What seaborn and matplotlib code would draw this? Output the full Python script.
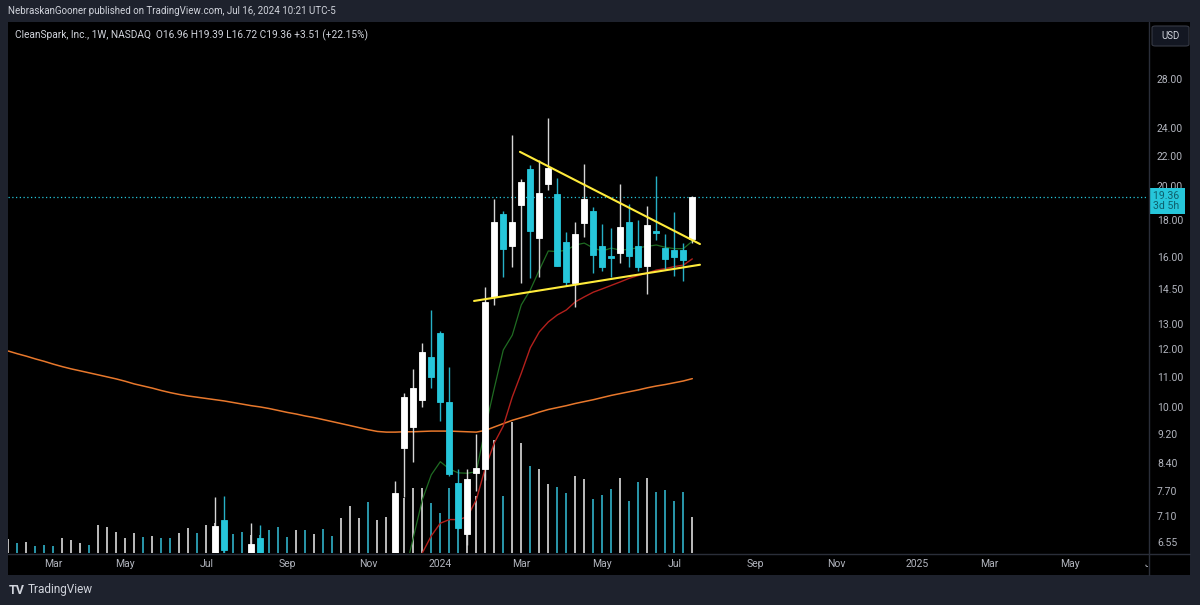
import numpy as np
import pandas as pd
import matplotlib
matplotlib.use("Agg")
import matplotlib.pyplot as plt
import matplotlib.transforms as mtransforms
from matplotlib.patches import Rectangle, FancyBboxPatch
from matplotlib.lines import Line2D
from matplotlib.ticker import NullLocator
import seaborn as sns

# ---------------- data ----------------
start_week = "2023-01-30"          # first weekly bar (Monday)
n_weeks = 77                       # through week of 2024-07-15

# weekly direction (u = up / white, d = down / cyan) used for volume colours
direction = ("ududdduuud" "uuuuududdu" "uduudddudd" "ddududduuu"
             "duuuuuuddd" "duuuuduudu" "udduudddud" "duddddu")

# weekly volume (millions of shares)
volume = [21, 15, 16, 10, 12, 10, 22, 19, 15, 12,
          42, 39, 31, 22, 30, 24, 25, 22, 22, 30,
          37, 30, 42, 45, 42, 28, 31, 27, 27, 34,
          39, 24, 34, 34, 28, 36, 25, 52, 70, 52,
          76, 49, 54, 67, 82, 97, 97, 75, 60, 97,
          105, 108, 85, 135, 169, 85, 196, 165, 130, 126,
          103, 99, 90, 115, 111, 81, 87, 96, 112, 78,
          106, 112, 91, 94, 78, 91, 54]

# candles visible inside the 6.3 - 33.5 price window (week index)
candle_week = [23, 24, 27, 28] + list(range(43, 77))
c_open = [5.90, 7.01, 6.00, 6.63,
          5.60, 8.81, 9.41, 10.22, 11.70, 12.62, 10.16, 7.89, 6.71, 8.13,
          8.24, 14.15, 18.34, 16.61, 18.88, 21.09, 16.99, 20.12, 19.50, 16.81,
          14.76, 17.81, 18.51, 16.59, 16.07, 16.24, 17.90, 16.59, 15.59, 17.40,
          16.46, 16.38, 16.38, 16.96]
c_high = [7.55, 7.56, 6.95, 6.92,
          7.93, 10.45, 11.29, 12.23, 13.57, 12.70, 11.34, 8.24, 8.24, 9.20,
          14.60, 19.22, 18.51, 23.48, 20.46, 21.37, 21.71, 24.75, 20.51, 17.31,
          17.90, 21.43, 18.73, 17.77, 17.57, 20.12, 18.92, 17.99, 18.80, 20.66,
          17.22, 18.47, 16.72, 19.39]
c_low = [5.60, 6.20, 5.80, 5.70,
         5.50, 7.55, 8.43, 10.02, 10.61, 9.59, 8.05, 6.83, 6.50, 7.68,
         7.95, 13.79, 15.06, 15.54, 14.78, 14.98, 15.06, 19.77, 15.59, 14.63,
         13.71, 17.08, 15.23, 15.35, 15.06, 15.71, 15.54, 15.35, 14.27, 16.90,
         15.42, 15.09, 14.88, 16.72]
c_close = [6.88, 6.38, 6.51, 5.95,
           7.63, 10.34, 10.62, 11.89, 11.01, 10.18, 8.12, 6.85, 7.99, 8.26,
           13.93, 17.87, 16.41, 17.88, 20.25, 17.39, 19.56, 21.20, 15.59, 14.83,
           17.22, 19.22, 16.12, 15.54, 15.98, 17.62, 16.07, 15.54, 17.69, 17.30,
           15.91, 16.04, 15.85, 19.36]

# moving averages
ma_long = [11.93, 11.83, 11.74, 11.64, 11.55, 11.45, 11.36, 11.28, 11.21, 11.14,
           11.07, 11.00, 10.93, 10.85, 10.76, 10.69, 10.62, 10.54, 10.47, 10.41,
           10.36, 10.32, 10.28, 10.24, 10.20, 10.15, 10.10, 10.05, 10.01, 9.96,
           9.90, 9.84, 9.79, 9.73, 9.68, 9.62, 9.56, 9.50, 9.44, 9.38,
           9.32, 9.27, 9.25, 9.25, 9.26, 9.26, 9.27, 9.28, 9.28, 9.28,
           9.27, 9.26, 9.25, 9.30, 9.40, 9.50, 9.60, 9.68, 9.76, 9.85,
           9.93, 9.99, 10.05, 10.12, 10.18, 10.24, 10.31, 10.38, 10.44, 10.50,
           10.56, 10.63, 10.69, 10.74, 10.80, 10.86, 10.94]
ma_fast_start = 44
ma_fast = [5.90, 6.64, 7.48, 8.09, 8.43, 8.24, 8.14, 8.13, 8.17, 9.37,
           10.62, 11.97, 12.54, 13.79, 14.45, 15.38, 16.33, 16.30, 16.37, 16.64,
           16.74, 16.48, 16.33, 16.48, 16.37, 16.42, 16.50, 16.57, 16.64, 16.52,
           16.45, 16.45, 16.84]
ma_mid_start = 45
ma_mid = [5.90, 6.33, 6.68, 6.95, 7.03, 7.03, 7.09, 7.48, 8.27, 8.94,
          9.43, 10.33, 11.13, 12.05, 12.67, 13.07, 13.36, 13.57, 13.92, 14.14,
          14.35, 14.50, 14.66, 14.82, 14.99, 15.12, 15.24, 15.38, 15.45, 15.55,
          15.62, 15.93]

# drawn trendlines (week index, price)
upper_x = [56.85, 76.85]
upper_y = [22.29, 16.69]
lower_x = [51.75, 76.85]
lower_y = [13.96, 15.64]

last_price = 19.36
price_ticks = [6.55, 7.10, 7.70, 8.40, 9.20, 10.00, 11.00, 12.00, 13.00,
               14.50, 16.00, 18.00, 20.00, 22.00, 24.00, 28.00]

header = "NebraskanGooner published on TradingView.com, Jul 16, 2024 10:21 UTC-5"
legend = "CleanSpark, Inc., 1W, NASDAQ  O16.96 H19.39 L16.72 C19.36 +3.51 (+22.15%)"

# ---------------- style ----------------
sns.set_theme(style="dark")
plt.rcParams["font.family"] = ["Roboto", "DejaVu Sans"]

UP = "#ffffff"
UP_WICK = "#d6d6d6"
DN = "#26c6da"
DN_WICK = "#26b0c6"
VOL_UP = "#bdbdbd"
VOL_DN = "#2a98ab"
TXT = "#b2b5be"
FRAME = "#1e222d"
SEP = "#2a2e39"

W, H = 1200, 605
fig = plt.figure(figsize=(12, 6.05), dpi=100, facecolor=FRAME)


def fx(px):
    return px / W


def fy(py):
    return 1 - py / H


fig.add_artist(Rectangle((fx(8), fy(575)), fx(1190) - fx(8), fy(22) - fy(575),
                         transform=fig.transFigure, fc="black", ec="none", zorder=0))

rect = [fx(8), fy(553), (1148 - 8) / W, (553 - 22) / H]
x_lo, x_hi = -0.03, 126.63

# volume layer (behind price)
vax = fig.add_axes(rect)
vax.set_facecolor("none")
vax.set_axis_off()
vx = np.arange(n_weeks)
vcol = [VOL_UP if d == "u" else VOL_DN for d in direction]
vax.vlines(vx, 0, volume, colors=vcol, lw=1.4)
vax.set_xlim(x_lo, x_hi)
vax.set_ylim(0, 796.5)

# price layer
ax = fig.add_axes(rect)
ax.patch.set_alpha(0)
ax.set_yscale("log")
ax.set_xlim(x_lo, x_hi)
ax.set_ylim(6.33, 33.5)
for s in ax.spines.values():
    s.set_visible(False)
ax.grid(False)

# moving averages
sns.lineplot(x=np.arange(n_weeks), y=ma_long, ax=ax, color="#e8782c", lw=1.1,
             estimator=None, legend=False)
sns.lineplot(x=np.arange(ma_fast_start, ma_fast_start + len(ma_fast)), y=ma_fast, ax=ax,
             color="#1f6b22", lw=0.9, estimator=None, legend=False)
sns.lineplot(x=np.arange(ma_mid_start, ma_mid_start + len(ma_mid)), y=ma_mid, ax=ax,
             color="#b3201c", lw=1.0, estimator=None, legend=False)

# candles
cw = np.array(candle_week)
o = np.array(c_open); h = np.array(c_high); l = np.array(c_low); c = np.array(c_close)
up = c >= o
ax.vlines(cw[up], l[up], h[up], colors=UP_WICK, lw=1.0, zorder=3)
ax.vlines(cw[~up], l[~up], h[~up], colors=DN_WICK, lw=1.0, zorder=3)
bot = np.minimum(o, c); top = np.maximum(o, c)
ax.bar(cw[up], top[up] - bot[up], bottom=bot[up], width=0.68, color=UP,
       edgecolor=UP, lw=0.6, zorder=4)
ax.bar(cw[~up], top[~up] - bot[~up], bottom=bot[~up], width=0.68, color=DN,
       edgecolor=DN, lw=0.6, zorder=4)

# trendlines
ax.plot(upper_x, upper_y, color="#ffeb3b", lw=1.5, zorder=5)
ax.plot(lower_x, lower_y, color="#ffeb3b", lw=1.5, zorder=5)

# last price line
ax.axhline(last_price, color="#26c6da", lw=0.9, ls=(0, (1, 2)), zorder=2)

# price scale
ax.xaxis.set_visible(False)
ax.yaxis.tick_right()
ax.set_yticks(price_ticks)
ax.set_yticklabels([f"{t:.2f}" for t in price_ticks])
ax.yaxis.set_minor_locator(NullLocator())
ax.tick_params(axis="y", length=0, pad=6.5, labelcolor=TXT, labelsize=7.5)
ax.set_ylabel("")
ax.set_xlabel("")

btr = mtransforms.blended_transform_factory(ax.transAxes, ax.transData)
ax.annotate("19.36 \n3d 5h ", xy=(1.0045, last_price), xycoords=btr,
            xytext=(0, 4.2), textcoords="offset points", ha="left", va="top",
            fontsize=7.6, color="#0e5f6c", linespacing=1.0, annotation_clip=False,
            zorder=10, bbox=dict(boxstyle="square,pad=0.3", fc="#26c6da", ec="none"))

# time axis
tax = fig.add_axes([fx(8), fy(575), (1148 - 8) / W, (575 - 553) / H])
tax.set_axis_off()
tax.set_xlim(x_lo, x_hi)
tax.set_ylim(0, 1)
start = pd.Timestamp(start_week)
for yr in (2023, 2024, 2025):
    for m in (1, 3, 5, 7, 9, 11):
        d = pd.Timestamp(yr, m, 1)
        while d.weekday() != 0:
            d += pd.Timedelta(days=1)
        idx = (d - start).days / 7
        if idx < 0 or idx > x_hi + 2:
            continue
        lab = str(yr) if m == 1 else d.strftime("%b")
        tax.text(idx, 0.5, lab, ha="center", va="center", fontsize=7.5,
                 color=TXT, clip_on=True)

# separators
fig.add_artist(Line2D([fx(8), fx(1190)], [fy(553.5), fy(553.5)],
                      transform=fig.transFigure, color=SEP, lw=1))
fig.add_artist(Line2D([fx(1149), fx(1149)], [fy(575), fy(22)],
                      transform=fig.transFigure, color=SEP, lw=1))

# USD button
fig.add_artist(FancyBboxPatch((fx(1152), fy(46)), fx(37), 20 / H,
                              boxstyle="round,pad=0,rounding_size=0.003",
                              transform=fig.transFigure, fc="#131722", ec="#363a45", lw=0.8))
fig.text(fx(1170.5), fy(36), "USD", ha="center", va="center", fontsize=7, color="#d1d4dc")

# header / legend / footer
fig.text(fx(8), fy(11), header, ha="left", va="center", fontsize=7.0, color="#d1d4dc")
fig.text(fx(15), fy(35), legend, ha="left", va="center", fontsize=7.3, color="#d1d4dc")
fig.text(fx(9), fy(590), "TV", ha="left", va="center", fontsize=9, fontweight="bold",
         color="#d1d4dc")
fig.text(fx(28), fy(590), "TradingView", ha="left", va="center", fontsize=8.5,
         color="#d1d4dc")

fig.savefig("out.png", dpi=100, facecolor=FRAME)
